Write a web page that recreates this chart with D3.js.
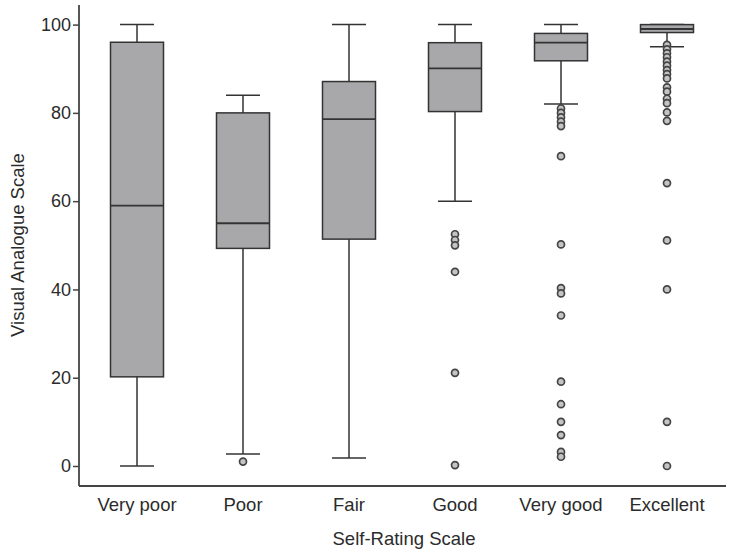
<!DOCTYPE html>
<html>
<head>
<meta charset="utf-8">
<script src="https://cdn.jsdelivr.net/npm/d3@7"></script>
<style>
  body { margin: 0; background: #fff; }
  text { font-family: "Liberation Sans", Arial, sans-serif; fill: #2b2b2b; }
</style>
</head>
<body>
<div id="chart"></div>
<script>
// box plot: VAS score by self-rating category
var categories = ["Very poor", "Poor", "Fair", "Good", "Very good", "Excellent"];
var whiskerLow  = [0, 2.7, 1.8, 60, 82, 95];
var q1          = [20.2, 49.3, 51.4, 80.3, 91.8, 98.2];
var median      = [59, 55, 78.6, 90.1, 95.9, 99];
var q3          = [96, 80, 87.1, 95.9, 98, 100];
var whiskerHigh = [100, 84, 100, 100, 100, 100];
var outliers = [
    [],
    [1],
    [],
    [52.5, 51.2, 50, 44, 21.1, 0.2],
    [81, 80, 79, 78, 77, 70.2, 50.2, 40.3, 39.1, 34.1, 19.1, 14, 10, 7, 3.2, 2.1],
    [95.4, 94.4, 93.5, 92.6, 91.6, 90.7, 89.7, 88.8, 87.8, 85.8, 84.8, 83.2, 82.2, 80.1, 78.2, 64.1, 51.1, 40, 10, 0]
];
var yTicks = [0, 20, 40, 60, 80, 100];

var width = 729,
    height = 556;

var svg = d3.select('#chart')
    .append('svg')
    .attr('width', width)
    .attr('height', height);

var x = d3.scaleBand().domain(categories).range([84, 720]);
var y = d3.scaleLinear().domain([0, 100]).range([466, 24.6]);

var boxW = 53, capW = 34;
var stroke = '#333';

var rows = categories.map(function(c, i) {
    return {name: c, lo: whiskerLow[i], q1: q1[i], med: median[i], q3: q3[i], hi: whiskerHigh[i], out: outliers[i]};
});

var g = svg.selectAll('.box')
    .data(rows)
    .enter()
    .append('g')
    .attr('class', 'box')
    .attr('transform', function(d) {
        return 'translate(' + (x(d.name) + x.bandwidth() / 2) + ',0)';
    });

// whisker stems
g.append('line')
    .attr('x1', 0).attr('x2', 0)
    .attr('y1', function(d) { return y(d.hi); })
    .attr('y2', function(d) { return y(d.lo); })
    .attr('stroke', stroke).attr('stroke-width', 1.5);

// caps
[ 'hi', 'lo' ].forEach(function(k) {
    g.append('line')
        .attr('x1', -capW / 2).attr('x2', capW / 2)
        .attr('y1', function(d) { return y(d[k]); })
        .attr('y2', function(d) { return y(d[k]); })
        .attr('stroke', stroke).attr('stroke-width', 1.5);
});

g.append('rect')
    .attr('x', -boxW / 2)
    .attr('width', boxW)
    .attr('y', function(d) { return y(d.q3); })
    .attr('height', function(d) { return y(d.q1) - y(d.q3); })
    .attr('fill', '#a8a8aa')
    .attr('stroke', stroke)
    .attr('stroke-width', 1.5);

g.append('line')
    .attr('x1', -boxW / 2).attr('x2', boxW / 2)
    .attr('y1', function(d) { return y(d.med); })
    .attr('y2', function(d) { return y(d.med); })
    .attr('stroke', stroke).attr('stroke-width', 1.8);

g.selectAll('circle')
    .data(function(d) { return d.out; })
    .enter()
    .append('circle')
    .attr('cx', 0)
    .attr('cy', function(v) { return y(v); })
    .attr('r', 3.5)
    .attr('fill', '#c4c4c4')
    .attr('stroke', '#444')
    .attr('stroke-width', 1.7);

// y axis
var yAxis = svg.append('g')
    .attr('transform', 'translate(79,0)')
    .call(d3.axisLeft(y).tickValues(yTicks).tickSize(6).tickPadding(2));
yAxis.select('.domain').remove();
yAxis.selectAll('.tick line').attr('stroke', '#444').attr('stroke-width', 1.5);
yAxis.selectAll('.tick text').style('font-size', '18px').attr('fill', '#2b2b2b');

svg.append('line')
    .attr('x1', 79).attr('x2', 79)
    .attr('y1', 5).attr('y2', 486)
    .attr('stroke', '#444').attr('stroke-width', 1.8);

// x axis
var xAxis = svg.append('g')
    .attr('transform', 'translate(0,486)')
    .call(d3.axisBottom(x).tickSize(0).tickPadding(12));
xAxis.select('.domain').remove();
xAxis.selectAll('.tick text').style('font-size', '18.5px').attr('fill', '#2b2b2b');

svg.append('line')
    .attr('x1', 79).attr('x2', 726)
    .attr('y1', 486).attr('y2', 486)
    .attr('stroke', '#444').attr('stroke-width', 1.8);

svg.append('text')
    .attr('x', 404)
    .attr('y', 545)
    .attr('text-anchor', 'middle')
    .style('font-size', '18.5px')
    .text('Self-Rating Scale');

svg.append('text')
    .attr('transform', 'translate(24,245) rotate(-90)')
    .attr('text-anchor', 'middle')
    .style('font-size', '18.5px')
    .text('Visual Analogue Scale');
</script>
</body>
</html>
